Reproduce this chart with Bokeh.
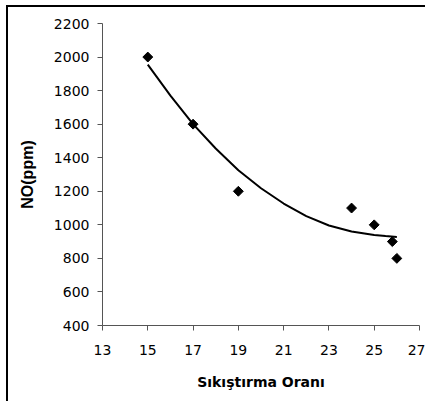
import numpy as np
from bokeh.plotting import figure
from bokeh.models import Range1d, FixedTicker
from bokeh.embed import file_html
from bokeh.resources import INLINE

# measured points
ratio = [15, 17, 19, 24, 25, 25.8, 26]
no_ppm = [2000, 1600, 1200, 1100, 1000, 900, 800]

# trend line
trend_x = [15, 16, 17, 18, 19, 20, 21, 22, 23, 24, 25, 25.5, 26]
trend_y = [1955, 1770, 1600, 1455, 1325, 1218, 1127, 1052, 996, 960, 940, 933, 928]

x_ticks = [13, 15, 17, 19, 21, 23, 25, 27]
y_ticks = [400, 600, 800, 1000, 1200, 1400, 1600, 1800, 2000, 2200]

p = figure(width=419, height=396, output_backend="svg", toolbar_location=None,
           x_range=Range1d(13, 27), y_range=Range1d(400, 2200),
           min_border_left=94, min_border_right=8, min_border_top=16, min_border_bottom=78)
p.styles = {"margin-left": "6px", "margin-top": "5px",
            "border-left": "2px solid black", "border-top": "2px solid black"}
p.outline_line_color = None
p.xgrid.visible = False
p.ygrid.visible = False
p.background_fill_color = "white"
p.border_fill_color = "white"

for ax in (p.xaxis[0], p.yaxis[0]):
    ax.axis_line_color = "#555555"
    ax.major_tick_line_color = "#555555"
    ax.major_tick_out = 5
    ax.major_tick_in = 0
    ax.minor_tick_line_color = None
    ax.major_label_text_font = "DejaVu Sans"
    ax.major_label_text_font_size = "14px"
    ax.major_label_text_color = "black"
    ax.axis_label_text_font_style = "bold"
    ax.axis_label_text_color = "black"

p.xaxis.axis_label_text_font = "DejaVu Sans"
p.xaxis.axis_label_text_font_size = "14px"
p.yaxis.axis_label_text_font = "Liberation Sans"
p.yaxis.axis_label_text_font_size = "16px"

p.xaxis.ticker = FixedTicker(ticks=x_ticks)
p.yaxis.ticker = FixedTicker(ticks=y_ticks)
p.xaxis.axis_label = "Sıkıştırma Oranı"
p.yaxis.axis_label = "NO(ppm)"
p.xaxis.major_label_standoff = 14
p.yaxis.major_label_standoff = 8
p.xaxis.axis_label_standoff = 16
p.yaxis.axis_label_standoff = 15

p.line(trend_x, trend_y, line_color="black", line_width=2)
p.scatter(ratio, no_ppm, marker="square", size=7, angle=np.pi / 4,
          fill_color="black", line_color="black")

open("out.html", "w").write(file_html(p, INLINE))
